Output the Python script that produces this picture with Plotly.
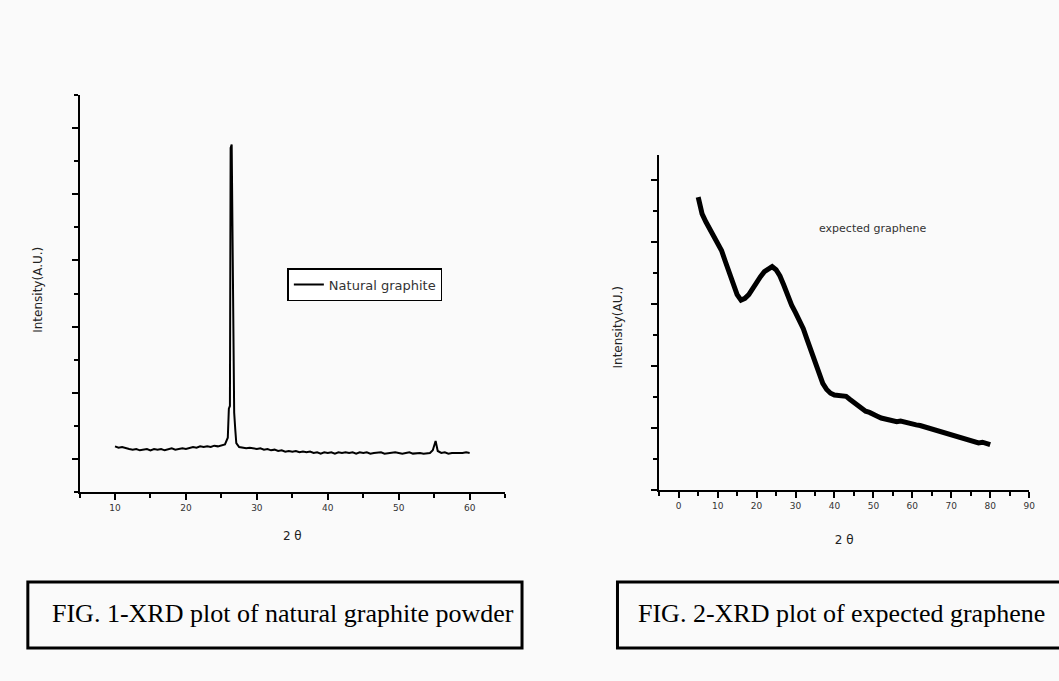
import plotly.graph_objects as go

# ---------- data: FIG. 1 natural graphite ----------
g_x = [10, 10.5, 11, 11.5, 12, 12.5, 13, 13.5, 14, 14.5, 15, 15.5, 16, 16.5, 17, 17.5, 18, 18.5,
       19, 19.5, 20, 20.5, 21, 21.5, 22, 22.5, 23, 23.5, 24, 24.5, 25, 25.5, 25.9, 26.05, 26.2,
       26.3, 26.45, 26.6, 26.7, 26.8, 26.95, 27.1, 27.5, 28, 28.5, 29, 29.5, 30, 30.5, 31, 31.5,
       32, 32.5, 33, 33.5, 34, 34.5, 35, 35.5, 36, 36.5, 37, 37.5, 38, 38.5, 39, 39.5, 40, 40.5,
       41, 41.5, 42, 42.5, 43, 43.5, 44, 44.5, 45, 45.5, 46, 46.5, 47, 47.5, 48, 48.5, 49, 49.5,
       50, 50.5, 51, 51.5, 52, 52.5, 53, 53.5, 54, 54.4, 54.8, 55.2, 55.5, 56, 56.5, 57, 57.5,
       58, 58.5, 59, 59.5, 60]
g_y = [0.19, 0.17, 0.18, 0.16, 0.15, 0.14, 0.15, 0.13, 0.14, 0.15, 0.13, 0.15, 0.14, 0.15, 0.13,
       0.15, 0.16, 0.14, 0.15, 0.16, 0.15, 0.17, 0.18, 0.17, 0.19, 0.18, 0.19, 0.18, 0.2, 0.19,
       0.2, 0.22, 0.32, 0.76, 0.8, 4.7, 4.75, 2.65, 2.6, 0.7, 0.45, 0.24, 0.18, 0.17, 0.16, 0.17,
       0.16, 0.15, 0.16, 0.14, 0.15, 0.13, 0.14, 0.12, 0.13, 0.11, 0.12, 0.11, 0.12, 0.1, 0.11,
       0.1, 0.11, 0.09, 0.1, 0.08, 0.1, 0.09, 0.1, 0.08, 0.1, 0.09, 0.1, 0.09, 0.1, 0.08, 0.1,
       0.09, 0.1, 0.08, 0.09, 0.09, 0.1, 0.08, 0.09, 0.09, 0.1, 0.09, 0.08, 0.09, 0.1, 0.08, 0.09,
       0.09, 0.08, 0.09, 0.09, 0.13, 0.27, 0.12, 0.09, 0.1, 0.08, 0.09, 0.09, 0.08, 0.09, 0.1,
       0.09, 0.09]

# ---------- data: FIG. 2 expected graphene ----------
e_x = list(range(5, 81))
e_y = [4.72, 4.45, 4.32, 4.2, 4.12, 3.98, 3.86, 3.68, 3.5, 3.33, 3.15, 3.06, 3.09, 3.15, 3.25,
       3.36, 3.44, 3.52, 3.56, 3.6, 3.55, 3.45, 3.3, 3.12, 2.98, 2.86, 2.74, 2.6, 2.42, 2.25,
       2.06, 1.88, 1.72, 1.62, 1.56, 1.53, 1.52, 1.5, 1.51, 1.46, 1.41, 1.35, 1.31, 1.27, 1.25,
       1.21, 1.19, 1.16, 1.14, 1.13, 1.11, 1.1, 1.11, 1.09, 1.08, 1.07, 1.05, 1.04, 1.02, 1.0,
       0.99, 0.97, 0.95, 0.93, 0.9, 0.88, 0.86, 0.84, 0.82, 0.8, 0.79, 0.77, 0.76, 0.77, 0.74,
       0.73]

W, H = 1059, 681
def px(x):
    return x / W
def py(y):
    return 1 - y / H

tickfont = dict(family="DejaVu Sans, Arial", size=9, color="#333")
titlefont = dict(family="DejaVu Sans, Arial", size=12, color="#222")

fig = go.Figure()
fig.add_trace(go.Scatter(x=g_x, y=g_y, mode="lines", name="Natural graphite",
                         line=dict(color="black", width=2), xaxis="x", yaxis="y"))
fig.add_trace(go.Scatter(x=e_x, y=e_y, mode="lines", name="expected graphene", showlegend=False,
                         line=dict(color="black", width=5), xaxis="x2", yaxis="y2"))

axis_common = dict(showline=True, linecolor="black", linewidth=2, showgrid=False, zeroline=False,
                   ticks="outside", tickcolor="black", ticklen=6, tickwidth=2, mirror=False)

fig.update_layout(
    width=W, height=H,
    margin=dict(l=0, r=0, t=0, b=0),
    paper_bgcolor="#fafafa", plot_bgcolor="rgba(0,0,0,0)",
    xaxis=dict(domain=[px(80), px(508)], range=[5, 65], dtick=10, tick0=0,
               anchor="y", tickfont=tickfont,
               minor=dict(ticks="outside", dtick=5, tick0=0, ticklen=4, tickcolor="black", tickwidth=1.5),
               title=dict(text="2 θ", font=titlefont, standoff=20), **axis_common),
    yaxis=dict(domain=[py(492), py(95)], range=[-0.5, 5.5], dtick=1, tick0=0,
               anchor="x", showticklabels=False,
               minor=dict(ticks="outside", dtick=0.5, tick0=0, ticklen=4, tickcolor="black", tickwidth=1.5),
               **axis_common),
    xaxis2=dict(domain=[px(663), px(1035)], range=[-5, 90], dtick=10, tick0=0,
                anchor="y2", tickfont=tickfont,
                minor=dict(ticks="outside", dtick=5, tick0=0, ticklen=4, tickcolor="black", tickwidth=1.5),
                title=dict(text="2 θ", font=titlefont, standoff=26), **axis_common),
    yaxis2=dict(domain=[py(490), py(155)], range=[0, 5.4], dtick=1, tick0=0,
                anchor="x2", showticklabels=False,
                minor=dict(ticks="outside", dtick=0.5, tick0=0, ticklen=4, tickcolor="black", tickwidth=1.5),
                **axis_common),
    showlegend=True,
    legend=dict(x=px(289), y=py(268), xanchor="left", yanchor="top",
                bgcolor="white", bordercolor="black", borderwidth=1.5,
                font=dict(family="DejaVu Sans, Arial", size=13, color="#333"),
                itemwidth=30, tracegroupgap=0),
)

annotations = [
    dict(text="Intensity(A.U.)", x=px(38), y=py(290), xref="paper", yref="paper",
         xanchor="center", yanchor="middle",
         textangle=-90, showarrow=False, font=titlefont),
    dict(text="Intensity(AU.)", x=px(622), y=py(327), xref="paper", yref="paper",
         xanchor="center", yanchor="middle",
         textangle=-90, showarrow=False, font=titlefont),
    dict(text="expected graphene", x=px(877), y=py(229), xref="paper", yref="paper",
         xanchor="center", yanchor="middle",
         showarrow=False, font=dict(family="DejaVu Sans, Arial", size=11, color="#333")),
    dict(text="FIG. 1-XRD plot of natural graphite powder", x=px(50), y=py(613),
         xref="paper", yref="paper", xanchor="left", yanchor="middle", showarrow=False,
         font=dict(family="Liberation Serif, Times New Roman", size=26, color="black")),
    dict(text="FIG. 2-XRD plot of expected graphene", x=px(640), y=py(613),
         xref="paper", yref="paper", xanchor="left", yanchor="middle", showarrow=False,
         font=dict(family="Liberation Serif, Times New Roman", size=26, color="black")),
]
fig.update_layout(annotations=annotations)

fig.add_shape(type="rect", xref="paper", yref="paper", x0=px(28), x1=px(525), y0=py(648), y1=py(582),
              line=dict(color="black", width=3))
fig.add_shape(type="rect", xref="paper", yref="paper", x0=px(621), x1=px(1090), y0=py(648), y1=py(582),
              line=dict(color="black", width=3))

fig.write_html("out.html", config={"displayModeBar": False},
               post_script="document.body.style.margin='0';")
